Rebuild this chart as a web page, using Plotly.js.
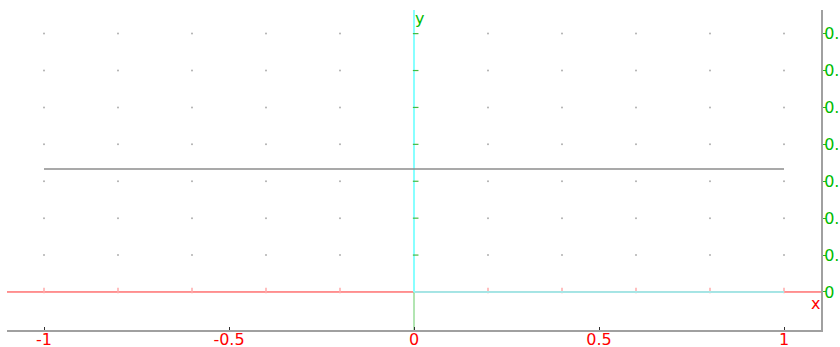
<!DOCTYPE html>
<html>
<head>
<meta charset="utf-8">
<script src="https://cdn.plot.ly/plotly-3.0.1.min.js"></script>
<style>html,body{margin:0;padding:0;background:#fff;}#chart{width:840px;height:347px;}</style>
</head>
<body>
<div id="chart"></div>
<script>
// data
const curveX = [-1, 1];
const curveY = [1/3, 1/3];
const xTickVals = [-1, -0.5, 0, 0.5, 1];
const xTickText = ["-1", "-0.5", "0", "0.5", "1"];
const yTickVals = [0, 0.1, 0.2, 0.3, 0.4, 0.5, 0.6, 0.7];
const yTickText = ["0", "0.1", "0.2", "0.3", "0.4", "0.5", "0.6", "0.7"];
const gridX = [-1, -0.8, -0.6, -0.4, -0.2, 0.2, 0.4, 0.6, 0.8, 1];
const gridY = [0.1, 0.2, 0.3, 0.4, 0.5, 0.6, 0.7];
const xRange = [-1.1, 1.1];
const yRange = [-0.103, 0.764];
const unitX = [0, 1];
const unitY = [0, 1];

const gx = [], gy = [];
gridX.forEach(x => gridY.forEach(y => { gx.push(x); gy.push(y); }));
const redTickX = gridX.concat([0]);

const traces = [
  // grid dots
  {x: gx, y: gy, mode: 'markers', marker: {size: 2, color: '#b0b0b0'}, hoverinfo: 'skip'},
  // x axis line (red)
  {x: xRange, y: [0, 0], mode: 'lines', line: {color: '#ff2a2a', width: 1}, hoverinfo: 'skip'},
  // red ticks on x axis
  {x: redTickX, y: redTickX.map(() => 0.004), mode: 'markers', marker: {symbol: 'line-ns', size: 4, line: {color: '#ffaaaa', width: 1.5}}, hoverinfo: 'skip'},
  // y axis line (green)
  {x: [0, 0], y: yRange, mode: 'lines', line: {color: '#99dd99', width: 1.5}, hoverinfo: 'skip'},
  // cyan unit vectors
  {x: unitX, y: [0, 0], mode: 'lines', line: {color: '#88ffff', width: 1.5}, hoverinfo: 'skip'},
  {x: [0, 0], y: unitY, mode: 'lines', line: {color: '#88ffff', width: 2}, hoverinfo: 'skip'},
  // green ticks on y axis
  {x: gridY.map(() => 0.0045), y: gridY, mode: 'markers', marker: {symbol: 'line-ew', size: 4, line: {color: '#44bb44', width: 1.2}}, hoverinfo: 'skip'},
  // the curve
  {x: curveX, y: curveY, mode: 'lines', line: {color: '#8c8c8c', width: 1.5}, hoverinfo: 'skip'}
];

const layout = {
  width: 840, height: 347,
  margin: {l: 7, r: 19, t: 10, b: 17, pad: 0},
  paper_bgcolor: '#ffffff', plot_bgcolor: '#ffffff',
  showlegend: false,
  font: {family: 'DejaVu Sans, sans-serif'},
  xaxis: {
    range: xRange, showgrid: false, zeroline: false,
    showline: true, linecolor: '#a0a0a0', linewidth: 2,
    ticks: 'inside', ticklen: 3, tickcolor: '#333333', tickwidth: 1,
    tickvals: xTickVals, ticktext: xTickText,
    ticklabelstandoff: -6,
    tickfont: {color: '#ff0000', size: 16, family: 'DejaVu Sans'}
  },
  yaxis: {
    range: yRange, side: 'right', showgrid: false, zeroline: false,
    showline: true, linecolor: '#a0a0a0', linewidth: 2,
    ticks: 'outside', ticklen: 3, tickcolor: '#22bb22', tickwidth: 1,
    tickvals: yTickVals, ticktext: yTickText,
    ticklabelstandoff: -5,
    tickfont: {color: '#00bb00', size: 16, family: 'DejaVu Sans'}
  },
  annotations: [
    {x: 1.084, y: -0.03, xref: 'x', yref: 'y', text: 'x', showarrow: false, font: {color: '#ff0000', size: 16, family: 'DejaVu Sans'}},
    {x: 0.015, y: 0.742, xref: 'x', yref: 'y', text: 'y', showarrow: false, font: {color: '#00bb00', size: 16, family: 'DejaVu Sans'}}
  ]
};

Plotly.newPlot('chart', traces, layout, {displayModeBar: false, staticPlot: true});
</script>
</body>
</html>
